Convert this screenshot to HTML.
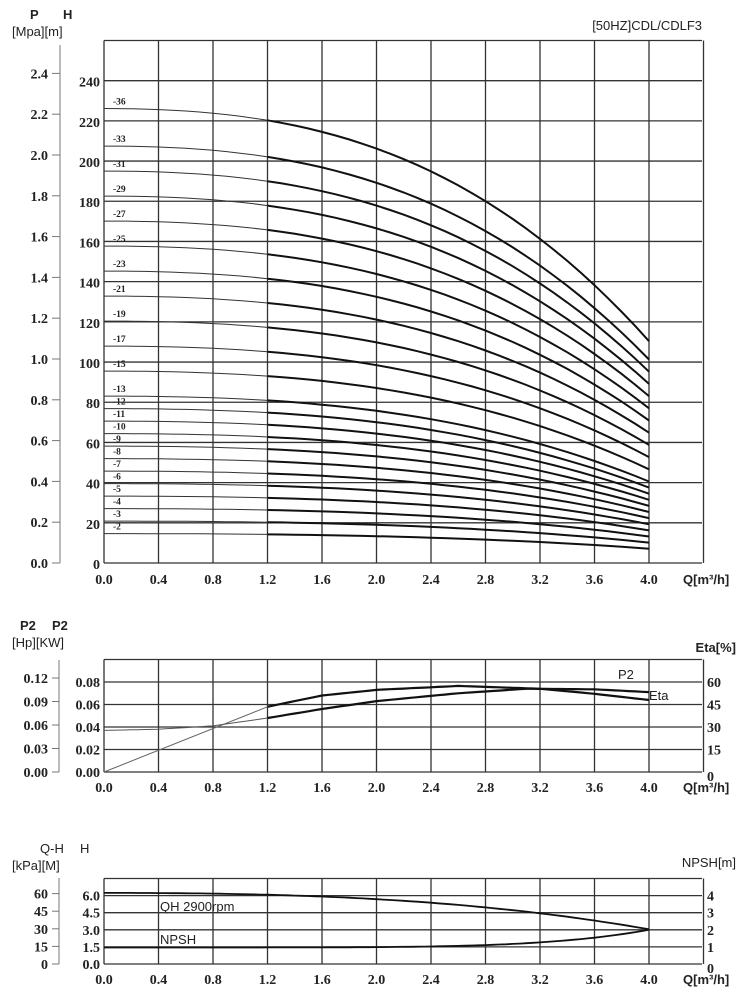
<!DOCTYPE html>
<html><head><meta charset="utf-8"><style>
html,body{margin:0;padding:0;background:#fff;}
svg{display:block;}
.s{font-family:"Liberation Sans",sans-serif;font-size:13px;fill:#222;}
.n{font-family:"Liberation Serif",serif;font-size:14px;font-weight:bold;fill:#222;}
.l{font-family:"Liberation Serif",serif;font-size:9.5px;font-weight:bold;fill:#222;}
</style></head><body>
<svg id="c" width="750" height="1000" xmlns="http://www.w3.org/2000/svg">
<text class="s" x="30" y="19" font-weight="bold" font-size="14">P</text>
<text class="s" x="63" y="19" font-weight="bold" font-size="14">H</text>
<text class="s" x="12" y="36">[Mpa][m]</text>
<text class="s" x="702" y="30" text-anchor="end">[50HZ]CDL/CDLF3</text>
<text class="s" x="20" y="630" font-weight="bold">P2</text>
<text class="s" x="52" y="630" font-weight="bold">P2</text>
<text class="s" x="12" y="647">[Hp][KW]</text>
<text class="s" x="736" y="652" text-anchor="end" font-weight="bold">Eta[%]</text>
<text class="s" x="618" y="679" font-size="15">P2</text>
<text class="s" x="649" y="700" font-size="12">Eta</text>
<text class="s" x="40" y="853">Q-H</text>
<text class="s" x="80" y="853">H</text>
<text class="s" x="12" y="870">[kPa][M]</text>
<text class="s" x="736" y="867" text-anchor="end">NPSH[m]</text>
<text class="s" x="160" y="911" font-size="14">QH 2900rpm</text>
<text class="s" x="160" y="944" font-size="14">NPSH</text>
</svg>
<script>
var S=document.getElementById('c'),NS='http://www.w3.org/2000/svg';
function el(t,a,txt){var e=document.createElementNS(NS,t);for(var k in a)e.setAttribute(k,a[k]);if(txt!==undefined)e.textContent=txt;S.appendChild(e);return e;}
function X(q){return 104+q*136.25;}
function grid(top,bot,rows){
  for(var i=0;i<=11;i++){var x=104+i*54.5;el('line',{x1:x,y1:top,x2:x,y2:bot,stroke:'#333','stroke-width':1.3});}
  for(var j=0;j<=rows;j++){var y=bot-(bot-top)*j/rows;el('line',{x1:104,y1:y,x2:702,y2:y,stroke:'#333','stroke-width':1.3});}
}
function xlabels(y){for(var i=0;i<=10;i++){el('text',{class:'n',x:X(i*0.4),y:y,'text-anchor':'middle'},(i*0.4).toFixed(1));}
 el('text',{class:'s',x:683,y:y,'font-weight':'bold'},'Q[m³/h]');}
function path(pts,w,c){var d='';pts.forEach(function(p,i){d+=(i?'L':'M')+p[0].toFixed(1)+' '+p[1].toFixed(1);});el('path',{d:d,fill:'none',stroke:c||'#111','stroke-width':w});}
// main
grid(40.5,563,13);
for(var h=0;h<=240;h+=20){el('text',{class:'n',x:100,y:563-h*2.01+6,'text-anchor':'end'},h);}
el('line',{x1:60,y1:45,x2:60,y2:563,stroke:'#777','stroke-width':1});
for(var i=0;i<=12;i++){var y=563-i*40.8;el('line',{x1:52,y1:y,x2:60,y2:y,stroke:'#777'});el('text',{class:'n',x:48,y:y+5,'text-anchor':'end'},(i*0.2).toFixed(1));}
xlabels(584);
function hq(q){return 6.22-0.075*q*q-0.031*q*q*q;}
[36,33,31,29,27,25,23,21,19,17,15,13,12,11,10,9,8,7,6,5,4,3,2].forEach(function(n){
  var a=[],b=[];for(var q=0;q<=1.2001;q+=0.1)a.push([X(q),563-(n+0.35)*hq(q)*2.01]);
  for(var q=1.2;q<=4.0001;q+=0.1)b.push([X(q),563-(n+0.35)*hq(q)*2.01]);
  path(a,1,'#333');path(b,2,'#111');
  el('text',{class:'l',x:113,y:563-(n+0.35)*6.22*2.01-4},'-'+n);
});
// middle
grid(659.5,772,5);
for(var i=0;i<=4;i++){var y=772-i*22.5;el('text',{class:'n',x:100,y:y+5,'text-anchor':'end'},(i*0.02).toFixed(2));el('text',{class:'n',x:707,y:y+5+(i==0?4:0)},i*15);}
el('line',{x1:59,y1:660,x2:59,y2:772,stroke:'#777'});
for(var i=0;i<=4;i++){var y=772-i*23.5;el('line',{x1:52,y1:y,x2:59,y2:y,stroke:'#777'});el('text',{class:'n',x:48,y:y+5,'text-anchor':'end'},(i*0.03).toFixed(2));}
xlabels(792);
function yP(v){return 772-v/0.02*22.5;}
function interp(pts,q){for(var i=1;i<pts.length;i++){if(q<=pts[i][0]){var t=(q-pts[i-1][0])/(pts[i][0]-pts[i-1][0]);return pts[i-1][1]+t*(pts[i][1]-pts[i-1][1]);}}return pts[pts.length-1][1];}
var A=[[1.2,0.058],[1.6,0.068],[2.0,0.073],[2.6,0.0765],[3.2,0.074],[3.6,0.0695],[4.0,0.064]];
var B=[[0,0.037],[0.4,0.038],[0.8,0.041],[1.2,0.048],[1.6,0.056],[2.0,0.063],[2.6,0.070],[3.1,0.074],[3.6,0.0735],[4.0,0.071]];
function smooth(P,q0,q1){var r=[];for(var q=q0;q<=q1+1e-6;q+=0.05)r.push([X(q),yP(interp(P,q))]);return r;}
path([[X(0),yP(0)],[X(1.2),yP(0.058)]],1,'#666');
path(smooth(A,1.2,4.0),2.2);
path(smooth(B,0,1.2),1,'#555');
path(smooth(B,1.2,4.0),2.2);
// bottom
grid(878.5,964,5);
for(var i=0;i<=4;i++){var y=964-i*17.1;el('text',{class:'n',x:100,y:y+5,'text-anchor':'end'},(i*1.5).toFixed(1));el('text',{class:'n',x:707,y:y+5+(i==0?4:0)},i);}
el('line',{x1:59,y1:878,x2:59,y2:964,stroke:'#777'});
for(var i=0;i<=4;i++){var y=964-i*17.6;el('line',{x1:52,y1:y,x2:59,y2:y,stroke:'#777'});el('text',{class:'n',x:48,y:y+5,'text-anchor':'end'},i*15);}
xlabels(984);
function yH(v){return 964-v/1.5*17.1;}
var qh=[],ns=[];for(var q=0;q<=4.0001;q+=0.05){qh.push([X(q),yH(6.3*hq(q)/6.22*0.99)]);ns.push([X(q),yH(1.45+0.00066*Math.pow(q,5.6))]);}
path(qh,1.8);path(ns,1.8);
</script>
</body></html>
